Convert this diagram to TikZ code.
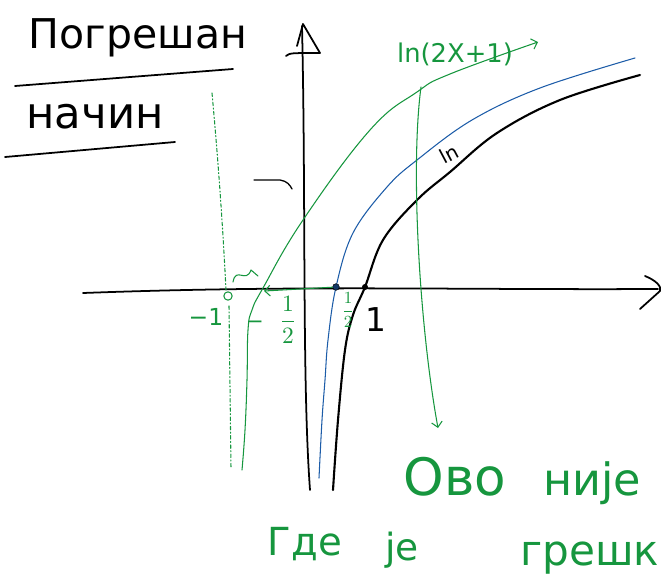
\documentclass[tikz,border=0pt]{standalone}
\usepackage{amsmath}
\usepackage{graphicx}
\usepackage{fontspec}
\setmainfont{DejaVu Sans}
\usetikzlibrary{positioning,arrows.meta}
\definecolor{pengreen}{RGB}{22,150,62}
\definecolor{penblue}{RGB}{28,92,168}

\begin{document}
\begin{tikzpicture}[
  x=0.03cm, y=-0.03cm,
  >={Straight Barb[length=1.6mm]},
  ink/.style={draw=black, line width=1.5pt, line cap=round, line join=round},
  gpen/.style={draw=pengreen, line width=0.9pt, line cap=round, line join=round},
  bpen/.style={draw=penblue, line width=0.9pt, line cap=round, line join=round},
  word/.style={inner sep=0pt, anchor=base, text=black},
  gword/.style={inner sep=0pt, anchor=base, text=pengreen},
  frac/.style={inner sep=0pt, text=pengreen},
]
\useasboundingbox (0,0) rectangle (665,588);

% ---- title, underlined twice ----
\node[word, font=\fontsize{35}{40}\selectfont] (title) at (138,48) {Погрешан};
\draw[ink] (15,86) -- (233,69);
\node[word, font=\fontsize{37}{42}\selectfont] (way) at (95,128) {начин};
\draw[ink] (5,157) -- (175,142);

% ---- axes ----
\coordinate (xl) at (83,293);
\coordinate (xr) at (658,289);
\coordinate (yb) at (310,490);
\coordinate (yt) at (302,26);
\draw[ink] (xl) .. controls (300,285) and (450,290) .. (xr);
\draw[ink] (645,276) .. controls (655,280) and (662,286) .. (660,291) -- (640,309);
\draw[ink] (yb) .. controls (302,380) and (306,200) .. (yt);
\draw[ink] (286,56) .. controls (290,53) .. (320,53) -- (303,24) -- (297,46);
\draw[ink, line width=1.1pt] (254,180) -- (280,180) .. controls (287,181) and (290,185) .. (292,189);

% ---- asymptote x = -1 (dash-dot) ----
\draw[gpen, dash dot] (212,93) .. controls (220,180) and (224,250) .. (226,290);
\draw[gpen, dash dot] (229,306) -- (231,468);
\node[circle, draw=pengreen, line width=0.9pt, inner sep=0pt, minimum size=0.25cm] (hole) at (228,296) {};
\draw[gpen] (233,282) .. controls (236,266) and (246,284) .. (251,270) -- (258,276);

% ---- curves ----
\draw[ink, line width=1.8pt] plot[smooth, tension=0.6] coordinates {
  (333,490) (338,420) (345,350) (353,315) (365,287) (383,240) (417,200)
  (450,172) (497,133) (560,100) (640,75)};
\draw[bpen] plot[smooth, tension=0.6] coordinates {
  (319,478) (322,420) (325,380) (328,340) (336,287) (353,233) (387,187)
  (417,160) (472,120) (540,88) (635,58)};
\draw[gpen, ->] plot[smooth, tension=0.7] coordinates {
  (242,470) (245,430) (247,380) (248,330) (252,310) (263,288) (303,220)
  (370,130) (417,92) (450,74) (538,42)};

% ---- zeros ----
\node[circle, fill=penblue!60!black, draw=black, inner sep=0pt, minimum size=0.2cm] (bzero) at (336,287) {};
\node[circle, fill=black, inner sep=0pt, minimum size=0.18cm] (kzero) at (365,287) {};
\coordinate (gzero) at (264,291);
\draw[gpen, ->] (bzero) -- (gzero);

% ---- labels on the axis ----
\node[gword, font=\fontsize{20}{22}\selectfont] (m1) at (206,325) {−1};
\node[gword, font=\fontsize{18}{20}\selectfont] (mhalf) at (255,328) {−};
\node[frac] (half) at (288,320) {\scalebox{2}{$\dfrac{1}{2}$}};
\node[frac] (phalf) at (348,310) {\scalebox{1.45}{$\dfrac{1}{2}$}};
\node[word, font=\fontsize{28}{30}\selectfont] (one) at (376,331) {1};

% ---- curve labels ----
\node[gword, font=\fontsize{22}{26}\selectfont] (lngreen) at (455,62) {ln(2X+1)};
\node[inner sep=0pt, font=\fontsize{17}{19}\selectfont, rotate=28] (lnblack) at (449,154) {ln};

% ---- comment arrow and text ----
\coordinate (ctop) at (421,87);
\coordinate (cend) at (438,428);
\draw[gpen, ->] (ctop) .. controls (410,170) and (420,330) .. (cend);
\node[gword, font=\fontsize{44}{48}\selectfont] (this) at (455,495) {Ово};
\node[gword, font=\fontsize{38}{42}\selectfont] (isnot) at (592,495) {није};
\node[gword, font=\fontsize{33}{36}\selectfont] (where) at (305,555) {Где};
\node[gword, font=\fontsize{32}{36}\selectfont] (is) at (402,560) {је};
\node[gword, font=\fontsize{36}{40}\selectfont] (error) at (590,565) {грешк};
\end{tikzpicture}
\end{document}
